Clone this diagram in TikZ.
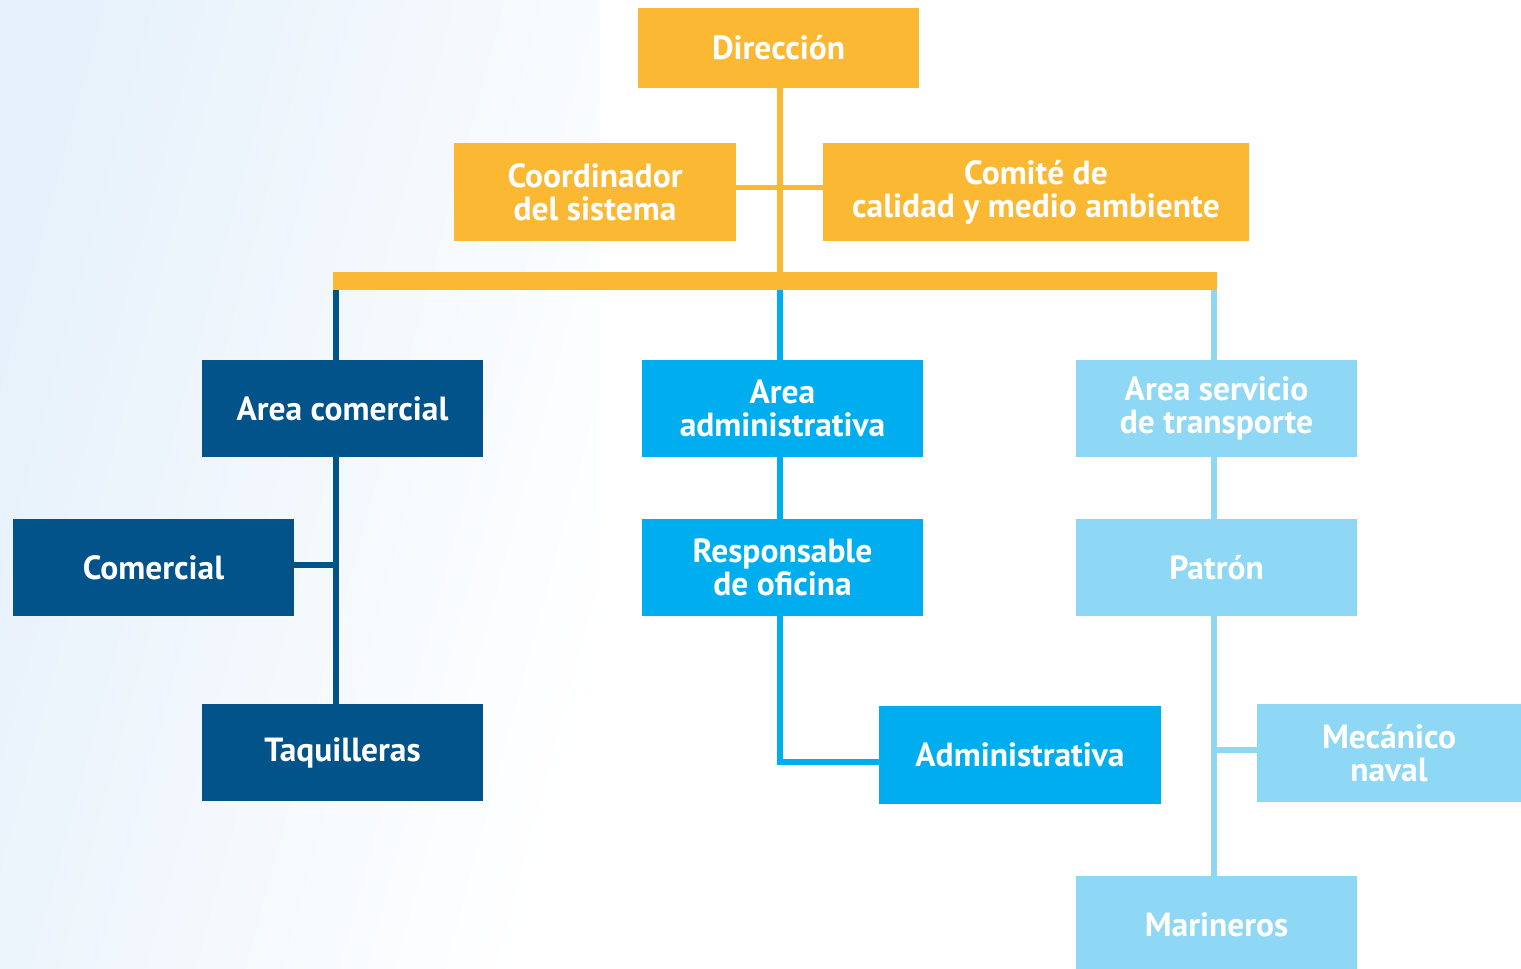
\documentclass[tikz,border=0pt]{standalone}
\usepackage{fontspec}
\setmainfont{PT Sans}
\usetikzlibrary{calc}
\definecolor{orgc}{HTML}{FBB833}
\definecolor{dkblue}{HTML}{02538A}
\definecolor{cyanb}{HTML}{00AEEF}
\definecolor{ltblue}{HTML}{8ED8F5}
\definecolor{bgblue}{HTML}{E6F1FB}
\tikzset{
  box/.style={rectangle, fill=#1, text=white, inner sep=0pt, outer sep=0pt,
    minimum width=281pt, minimum height=97pt, align=center,
    font=\fontsize{33.5}{33}\selectfont\bfseries},
  link/.style={draw=#1, line width=5.5pt}
}
\begin{document}
\begin{tikzpicture}[x=1pt,y=-1pt]
\useasboundingbox (0,0) rectangle (1521,969);
\clip (0,0) rectangle (1521,969);
\shade[left color=bgblue, middle color=white, right color=white, shading angle=75]
  (0,0) rectangle (600,969);

% nodes
\node[box=orgc, minimum height=80pt] (dir) at (778.5,47.5) {Dirección};
\node[box=orgc, minimum width=282pt, minimum height=98pt] (coord) at (595,192) {Coordinador\\del sistema};
\node[box=orgc, minimum width=426pt, minimum height=98pt] (comite) at (1036,192) {Comité de\\calidad y medio ambiente};
\node[rectangle, fill=orgc, inner sep=0pt, outer sep=0pt, minimum width=884pt, minimum height=18pt] (bar) at (775,281) {};

\node[box=dkblue] (acom) at (342.5,408.5) {Area comercial};
\node[box=cyanb] (aadm) at (782.5,408.5) {Area\\administrativa};
\node[box=ltblue] (aserv) at (1216.5,408.5) {Area servicio\\de transporte};

\node[box=dkblue] (comercial) at (153.5,567.5) {Comercial};
\node[box=dkblue] (taq) at (342.5,752.5) {Taquilleras};

\node[box=cyanb] (resp) at (782.5,567.5) {Responsable\\de oficina};
\node[box=cyanb, minimum width=282pt, minimum height=98pt] (admin) at (1020,755) {Administrativa};

\node[box=ltblue] (patron) at (1216.5,567.5) {Patrón};
\node[box=ltblue, minimum width=264pt, minimum height=98pt] (mec) at (1389,753) {Mecánico\\naval};
\node[box=ltblue, minimum height=98pt] (mar) at (1216.5,925) {Marineros};

% connector x positions
\coordinate (lx) at (336,0);
\coordinate (mx) at (780,0);
\coordinate (rx) at (1214,0);

% connectors
\draw[link=orgc] (dir.south -| mx) -- (bar.north -| mx);
\draw[link=orgc] ([yshift=4.5pt]coord.east) -- ([yshift=4.5pt]comite.west);

\draw[link=dkblue] (bar.south -| lx) -- (acom.north -| lx);
\draw[link=cyanb] (bar.south -| mx) -- (aadm.north -| mx);
\draw[link=ltblue] (bar.south -| rx) -- (aserv.north -| rx);

\draw[link=dkblue] (acom.south -| lx) -- (taq.north -| lx);
\draw[link=dkblue] ([yshift=2.5pt]comercial.east) -- ([yshift=2.5pt]comercial.east -| lx);

\draw[link=cyanb] (aadm.south -| mx) -- (resp.north -| mx);
\draw[link=cyanb, line join=miter] (resp.south -| mx) |- ([yshift=-7pt]admin.west);

\draw[link=ltblue] (aserv.south -| rx) -- (patron.north -| rx);
\draw[link=ltblue] (patron.south -| rx) -- (mar.north -| rx);
\draw[link=ltblue] ([yshift=3pt]mec.west -| rx) -- ([yshift=3pt]mec.west);
\end{tikzpicture}
\end{document}
